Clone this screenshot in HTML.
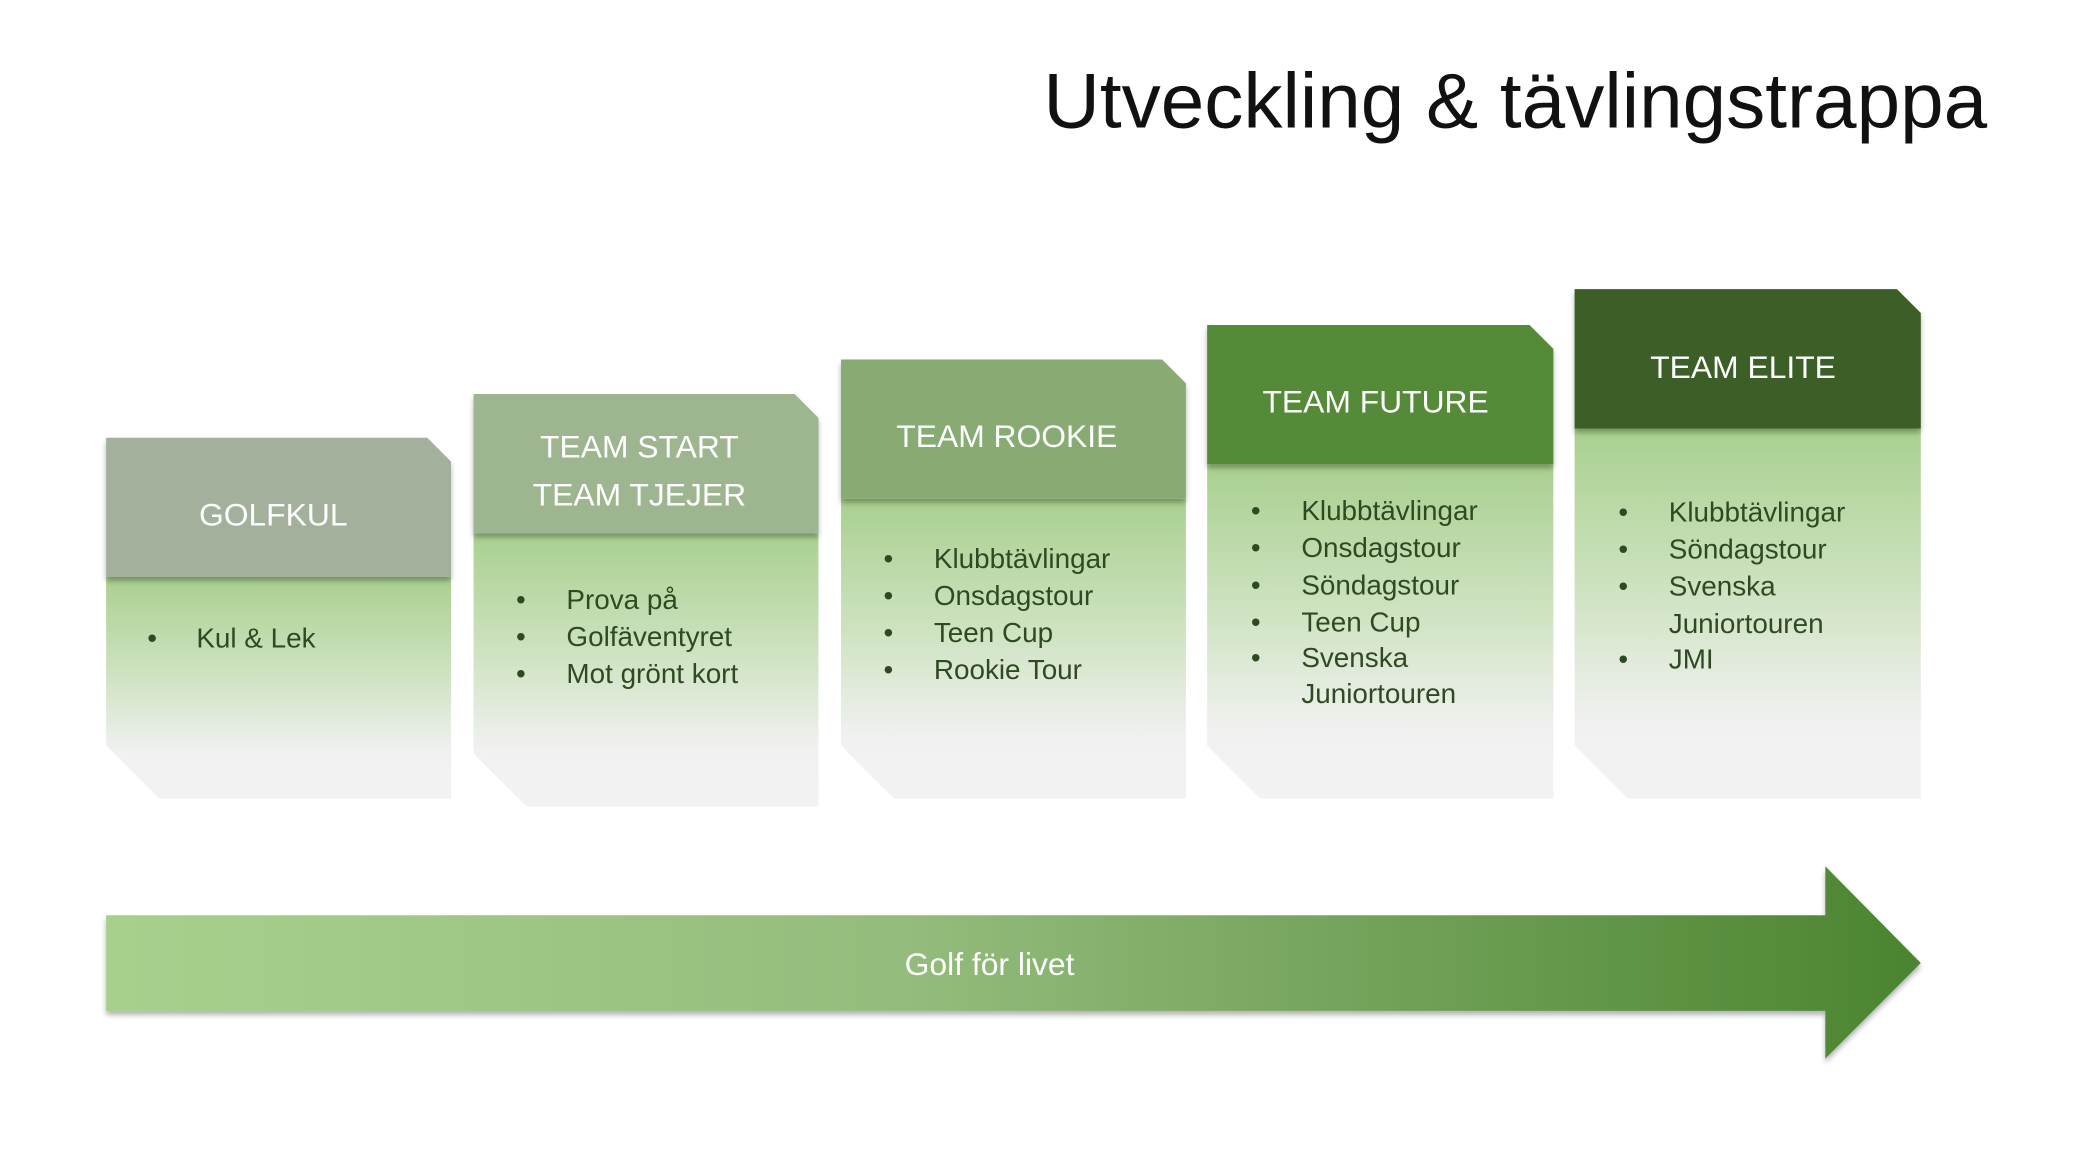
<!DOCTYPE html>
<html><head><meta charset="utf-8"><style>
html,body{margin:0;padding:0;background:#fff;}
svg{display:block;}
text{font-family:"Liberation Sans",sans-serif;}
</style></head><body>
<svg width="2080" height="1170" viewBox="0 0 1568 882" xmlns="http://www.w3.org/2000/svg">
<defs>
<linearGradient id="bg" x1="0" y1="0" x2="0" y2="1">
<stop offset="0" stop-color="#a9d08f"/><stop offset="0.45" stop-color="#cfe3c2"/><stop offset="0.8" stop-color="#f1f1f1"/><stop offset="1" stop-color="#f2f2f2"/>
</linearGradient>
<linearGradient id="ag" x1="0" y1="0" x2="1" y2="0">
<stop offset="0" stop-color="#a8d08d"/><stop offset="0.45" stop-color="#93bb7b"/><stop offset="1" stop-color="#4b8430"/>
</linearGradient>
<filter id="sh" x="-5%" y="-5%" width="110%" height="120%"><feDropShadow dx="0" dy="3" stdDeviation="2" flood-color="#000" flood-opacity="0.3"/></filter>
</defs>
<text x="1498" y="96" text-anchor="end" font-size="59" fill="#111">Utveckling &amp; tävlingstrappa</text>

<!-- box 1 -->
<polygon points="80,435 340,435 340,602 120,602 80,562" fill="url(#bg)"/>
<polygon points="80,330 322,330 340,348 340,435 80,435" fill="#a3b09c" filter="url(#sh)"/>
<text x="206" y="396" text-anchor="middle" font-size="24" fill="#fff">GOLFKUL</text>
<g font-size="21" fill="#2f4a23"><text x="111" y="488">•</text><text x="148" y="488">Kul &amp; Lek</text></g>

<!-- box 2 -->
<polygon points="357,402 617,402 617,608 397,608 357,568" fill="url(#bg)"/>
<polygon points="357,297 599,297 617,315 617,402 357,402" fill="#9db68f" filter="url(#sh)"/>
<text x="482" y="345" text-anchor="middle" font-size="24" fill="#fff">TEAM START</text>
<text x="482" y="381" text-anchor="middle" font-size="24" fill="#fff">TEAM TJEJER</text>
<g font-size="21" fill="#2f4a23">
<text x="389" y="459">•</text><text x="427" y="459">Prova på</text>
<text x="389" y="487">•</text><text x="427" y="487">Golfäventyret</text>
<text x="389" y="515">•</text><text x="427" y="515">Mot grönt kort</text></g>

<!-- box 3 -->
<polygon points="634,376 894,376 894,602 674,602 634,562" fill="url(#bg)"/>
<polygon points="634,271 876,271 894,289 894,376 634,376" fill="#87ab73" filter="url(#sh)"/>
<text x="759" y="337" text-anchor="middle" font-size="24" fill="#fff">TEAM ROOKIE</text>
<g font-size="21" fill="#2f4a23">
<text x="666" y="428">•</text><text x="704" y="428">Klubbtävlingar</text>
<text x="666" y="456">•</text><text x="704" y="456">Onsdagstour</text>
<text x="666" y="484">•</text><text x="704" y="484">Teen Cup</text>
<text x="666" y="512">•</text><text x="704" y="512">Rookie Tour</text></g>

<!-- box 4 -->
<polygon points="910,350 1171,350 1171,602 950,602 910,562" fill="url(#bg)"/>
<polygon points="910,245 1153,245 1171,263 1171,350 910,350" fill="#558a37" filter="url(#sh)"/>
<text x="1037" y="311" text-anchor="middle" font-size="24" fill="#fff">TEAM FUTURE</text>
<g font-size="21" fill="#2f4a23">
<text x="943" y="392">•</text><text x="981" y="392">Klubbtävlingar</text>
<text x="943" y="420">•</text><text x="981" y="420">Onsdagstour</text>
<text x="943" y="448">•</text><text x="981" y="448">Söndagstour</text>
<text x="943" y="476">•</text><text x="981" y="476">Teen Cup</text>
<text x="943" y="503">•</text><text x="981" y="503">Svenska</text>
<text x="981" y="530">Juniortouren</text></g>

<!-- box 5 -->
<polygon points="1187,323 1448,323 1448,602 1227,602 1187,562" fill="url(#bg)"/>
<polygon points="1187,218 1430,218 1448,236 1448,323 1187,323" fill="#3b5e25" filter="url(#sh)"/>
<text x="1314" y="285" text-anchor="middle" font-size="24" fill="#fff">TEAM ELITE</text>
<g font-size="21" fill="#2f4a23">
<text x="1220" y="393">•</text><text x="1258" y="393">Klubbtävlingar</text>
<text x="1220" y="421">•</text><text x="1258" y="421">Söndagstour</text>
<text x="1220" y="449">•</text><text x="1258" y="449">Svenska</text>
<text x="1258" y="477">Juniortouren</text>
<text x="1220" y="504">•</text><text x="1258" y="504">JMI</text></g>

<!-- arrow -->
<polygon points="80,690 1376,690 1376,653 1448,726 1376,798 1376,762 80,762" fill="url(#ag)" filter="url(#sh)"/>
<text x="746" y="735" text-anchor="middle" font-size="24" fill="#fff">Golf för livet</text>
</svg>
</body></html>
